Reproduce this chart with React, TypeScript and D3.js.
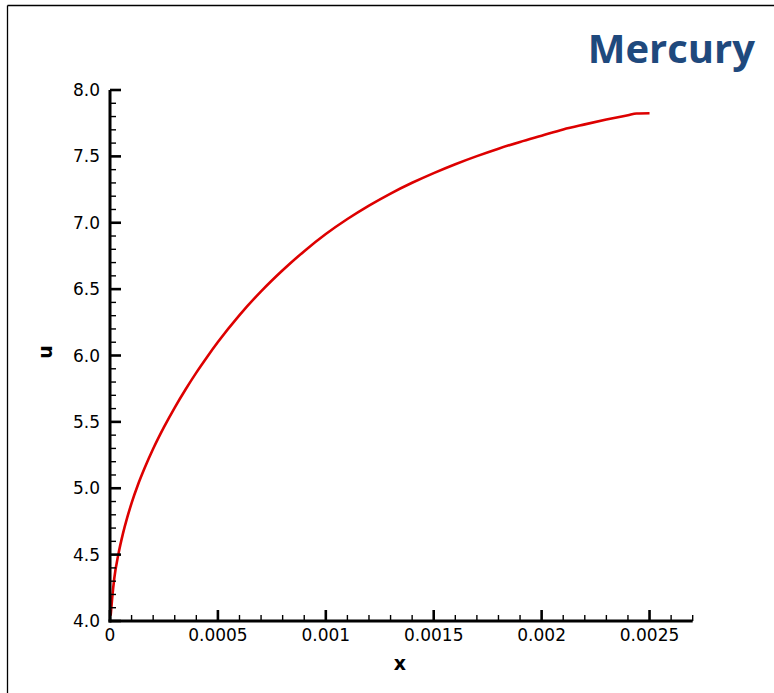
import React from "react";
import * as d3 from "d3";

// Velocity profile u(x) for mercury
const xValues = [
  0.000003, 0.00001, 0.00002, 0.0000385, 0.00006, 0.00008, 0.0001, 0.00013, 0.00016,
  0.0002, 0.00025, 0.0003, 0.00035, 0.0004, 0.00045, 0.0005, 0.0006, 0.0007, 0.0008,
  0.0009, 0.001, 0.0011, 0.0012, 0.0013, 0.0014, 0.0015, 0.0016, 0.0017, 0.0018,
  0.0019, 0.002, 0.0021, 0.0022, 0.0023, 0.0024, 0.00244, 0.0025,
];
const uValues = [
  4.04, 4.17, 4.324, 4.5, 4.658, 4.78, 4.888, 5.028, 5.15,
  5.297, 5.46, 5.608, 5.744, 5.871, 5.989, 6.101, 6.304, 6.483, 6.642,
  6.786, 6.915, 7.028, 7.129, 7.22, 7.301, 7.374, 7.441, 7.502, 7.558,
  7.609, 7.656, 7.703, 7.741, 7.777, 7.81, 7.823, 7.825,
];

const xMajorTicks = [0, 0.0005, 0.001, 0.0015, 0.002, 0.0025];
const xTickLabels = ["0", "0.0005", "0.001", "0.0015", "0.002", "0.0025"];
const yMajorTicks = [4.0, 4.5, 5.0, 5.5, 6.0, 6.5, 7.0, 7.5, 8.0];
const title = "Mercury";

const W = 774;
const H = 693;

export default function App() {
  const x = d3.scaleLinear().domain([0, 0.0027]).range([110, 692.7]);
  const y = d3.scaleLinear().domain([4, 8]).range([621, 90]);

  const xMinor = d3.range(0, 28).map((i) => i * 0.0001).filter((_, i) => i % 5 !== 0);
  const yMinor = d3.range(40, 81).map((i) => i / 10).filter((_, i) => (i + 40) % 5 !== 0);

  const pts: [number, number][] = xValues.map((v, i) => [v, uValues[i]]);
  const line = d3
    .line<[number, number]>()
    .x((d) => x(d[0]))
    .y((d) => y(d[1]))
    .curve(d3.curveMonotoneX);

  const tickFont = "'DejaVu Sans', Verdana, sans-serif";
  const x0 = x(0);
  const y0 = y(4);

  return (
    <svg
      width={W}
      height={H}
      style={{ position: "absolute", left: 0, top: 0, background: "#fff" }}
    >
      {/* frame */}
      <line x1={7.5} y1={5.5} x2={W} y2={5.5} stroke="#000" strokeWidth={1.3} />
      <line x1={7.5} y1={5.5} x2={7.5} y2={H} stroke="#000" strokeWidth={1.3} />

      <text
        x={755}
        y={63}
        textAnchor="end"
        fontFamily="'Open Sans', sans-serif"
        fontWeight={700}
        fontSize={40}
        fill="#1f497d"
      >
        {title}
      </text>

      {/* curve */}
      <path d={line(pts) ?? ""} fill="none" stroke="#dd0000" strokeWidth={2.6} />

      {/* y axis */}
      <line x1={x0} y1={y(8)} x2={x0} y2={y0 + 1.5} stroke="#000" strokeWidth={3} />
      {yMajorTicks.map((t) => (
        <g key={"ym" + t}>
          <line x1={x0} x2={x0 + 11} y1={y(t)} y2={y(t)} stroke="#000" strokeWidth={2.6} />
          <text
            x={100}
            y={y(t)}
            dy="0.36em"
            textAnchor="end"
            fontFamily={tickFont}
            fontSize={17}
            fill="#000"
          >
            {t.toFixed(1)}
          </text>
        </g>
      ))}
      {yMinor.map((t) => (
        <line key={"yn" + t} x1={x0} x2={x0 + 6} y1={y(t)} y2={y(t)} stroke="#000" strokeWidth={1.4} />
      ))}

      {/* x axis */}
      <line x1={x0 - 1.5} y1={y0} x2={x(0.0027)} y2={y0} stroke="#000" strokeWidth={3} />
      {xMajorTicks.map((t, i) => (
        <g key={"xm" + t}>
          <line x1={x(t)} x2={x(t)} y1={y0} y2={y0 - 11} stroke="#000" strokeWidth={2.6} />
          <text
            x={x(t)}
            y={641}
            textAnchor="middle"
            fontFamily={tickFont}
            fontSize={17}
            fill="#000"
          >
            {xTickLabels[i]}
          </text>
        </g>
      ))}
      {xMinor.map((t) => (
        <line key={"xn" + t} x1={x(t)} x2={x(t)} y1={y0} y2={y0 - 6} stroke="#000" strokeWidth={1.4} />
      ))}

      {/* axis titles */}
      <text
        x={400}
        y={670}
        textAnchor="middle"
        fontFamily={tickFont}
        fontWeight={700}
        fontSize={19}
        fill="#000"
      >
        x
      </text>
      <text
        transform={`translate(52,352) rotate(-90)`}
        textAnchor="middle"
        fontFamily={tickFont}
        fontWeight={700}
        fontSize={19}
        fill="#000"
      >
        u
      </text>
    </svg>
  );
}
